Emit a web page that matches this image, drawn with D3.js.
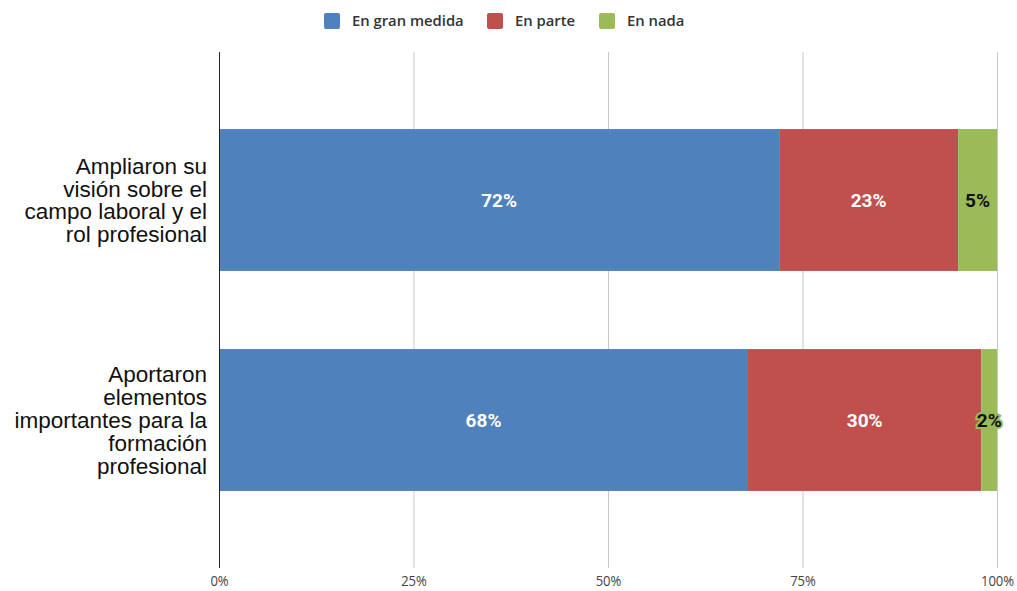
<!DOCTYPE html>
<html><head><meta charset="utf-8">
<script src="https://cdn.jsdelivr.net/npm/d3@7"></script>
<style>body{margin:0;background:#fff}</style>
</head><body>
<svg id="c" width="1017" height="591"></svg>
<script>
const categories = [
  ["Ampliaron su","visión sobre el","campo laboral y el","rol profesional"],
  ["Aportaron","elementos","importantes para la","formación","profesional"]
];
const seriesNames = ["En gran medida","En parte","En nada"];
const enGranMedida = [72, 68];
const enParte = [23, 30];
const enNada = [5, 2];
const tickValues = [0, 25, 50, 75, 100];
const colors = ["#4F81BD","#C0504D","#9BBB59"];

(function(){
const svg = d3.select("#c");
const x = d3.scaleLinear().domain([0,100]).range([219,997]);
const y = d3.scaleBand().domain([0,1]).range([90,530]).paddingInner(0.355).paddingOuter(0.1775);
const plotTop = 52, plotBottom = 568;

svg.append("g").selectAll("line").data(tickValues.slice(1)).join("line")
  .attr("x1", d=>x(d)+0.5).attr("x2", d=>x(d)+0.5).attr("y1", plotTop).attr("y2", plotBottom)
  .attr("stroke","#c8c8c8").attr("stroke-width",1);

const ax = svg.append("g").attr("transform",`translate(0,${plotBottom})`)
  .call(d3.axisBottom(x).tickValues(tickValues).tickFormat(d=>d+"%").tickSize(0).tickPadding(8));
ax.select(".domain").remove();
ax.selectAll("text").attr("font-family","'Open Sans', sans-serif").attr("font-size",14.5).attr("fill","#444")
  .attr("transform","scale(0.9,1)");

const data = [enGranMedida, enParte, enNada];
const stacked = [0,1].map(i=>{
  let acc=0;
  return data.map((s,k)=>{const d={i,k,x0:acc,x1:acc+s[i],v:s[i]}; acc+=s[i]; return d;});
}).flat();

svg.append("g").selectAll("rect").data(stacked).join("rect")
  .attr("x", d=>x(d.x0)).attr("width", d=>x(d.x1)-x(d.x0))
  .attr("y", d=>y(d.i)).attr("height", y.bandwidth())
  .attr("fill", d=>colors[d.k]);

svg.append("g").selectAll("text").data(stacked).join("text")
  .attr("x", d=>(x(d.x0)+x(d.x1))/2).attr("y", d=>y(d.i)+y.bandwidth()/2+6.5)
  .attr("text-anchor","middle").attr("font-family","Roboto, sans-serif").attr("font-weight","bold")
  .attr("font-size",19)
  .attr("fill", d=>d.k===2?"#111":"#fff")
  .attr("stroke", d=>d.k===2 && d.v<4 ? colors[2] : "none")
  .attr("stroke-width", 4).attr("paint-order","stroke")
  .text(d=>d.v+"%");

svg.append("line").attr("x1",219.5).attr("x2",219.5).attr("y1",plotTop).attr("y2",plotBottom)
  .attr("stroke","#222").attr("stroke-width",1);

categories.forEach((lines,i)=>{
  const cy = y(i)+y.bandwidth()/2;
  const lh = 22.8;
  const t = svg.append("text").attr("text-anchor","end").attr("font-family","'Liberation Sans', Arial, sans-serif")
    .attr("font-size",22.5).attr("fill","#111");
  lines.forEach((ln,j)=>{
    t.append("tspan").attr("x",207).attr("y", cy + (j-(lines.length-1)/2)*lh + 8).text(ln);
  });
});

const legX = [324, 487, 599];
const lg = svg.append("g").selectAll("g").data(seriesNames).join("g")
  .attr("transform",(d,i)=>`translate(${legX[i]},13)`);
lg.append("rect").attr("width",16).attr("height",16).attr("rx",2).attr("fill",(d,i)=>colors[i]);
lg.append("text").attr("x",28).attr("y",13).attr("font-family","'Open Sans', sans-serif")
  .attr("font-size",14.8).attr("font-weight",600).attr("fill","#333").text(d=>d);
})();
</script>
</body></html>
